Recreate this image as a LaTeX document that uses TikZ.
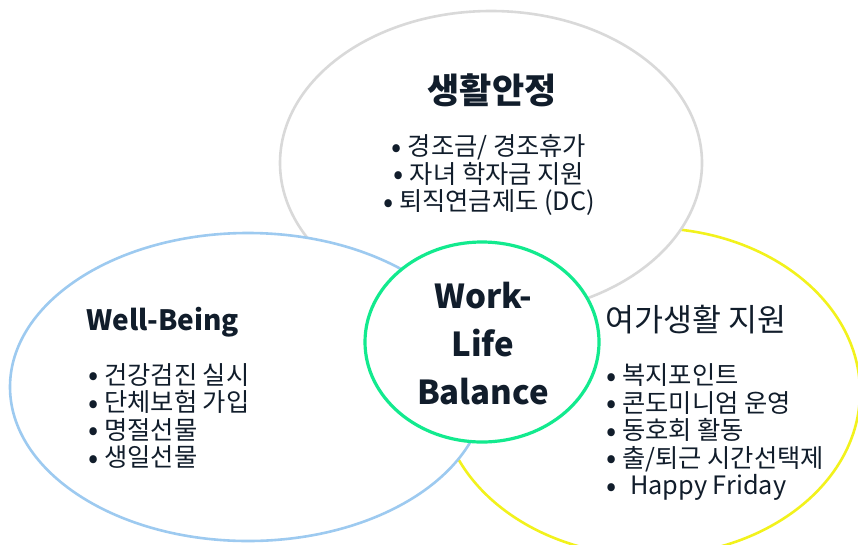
\documentclass[tikz,border=0pt]{standalone}
\usepackage{fontspec}
\setmainfont{Noto Sans CJK KR}
\usetikzlibrary{shapes.geometric}
\definecolor{txtc}{HTML}{111D2B}
\definecolor{grayline}{HTML}{D9D9D9}
\definecolor{blueline}{HTML}{9DCAF0}
\definecolor{yellowline}{HTML}{F2F21C}
\definecolor{greenline}{HTML}{12EA8E}
\newcommand{\blt}{\makebox[16pt][l]{\raisebox{-1.5pt}{\fontsize{30}{0}\selectfont •}}}
\tikzset{
  bubble/.style={
    draw, ellipse, fill=white, inner sep=0mm, line width=2.6pt
  },
  headtxt/.style={
    text=txtc, inner sep=0mm, font=\fontsize{30}{36}\selectfont
  },
  listtxt/.style={
    text=txtc, inner sep=0mm, font=\fontsize{25.3}{27.5}\selectfont
  }
}

\begin{document}
\begin{tikzpicture}[x=1pt, y=-1pt]
   \useasboundingbox (0, 0) rectangle (858, 544);

   \node[bubble, draw=yellowline, minimum width=420pt, minimum height=328pt] (leisure) at (650, 392) {};
   \node[bubble, draw=grayline, minimum width=422pt, minimum height=304pt] (stable) at (491, 163) {};
   \node[bubble, draw=blueline, minimum width=476pt, minimum height=308pt] (wellb) at (248, 387) {};
   \node[bubble, draw=greenline, line width=3.2pt, minimum width=234pt, minimum height=200pt] (wlb) at (482, 342) {};

   % titles
   \node[headtxt, font=\fontsize{35}{40}\selectfont\bfseries] (stablet) at (492, 90) {생활안정};
   \node[headtxt, font=\fontsize{28}{34}\selectfont\bfseries, anchor=west] (wellbt) at (86, 322) {Well-Being};
   \node[headtxt, font=\fontsize{31.5}{36}\selectfont, anchor=west] (leisuret) at (605, 320) {여가생활 지원};
   \node[headtxt, font=\fontsize{33}{48}\selectfont\bfseries, align=center] (wlbt) at (483, 344) {Work-\\Life\\Balance};

   % lists
   \node[listtxt, align=center] (stablel) at (489, 175) {\blt 경조금/ 경조휴가\\\blt 자녀 학자금 지원\\\blt 퇴직연금제도 (DC)};
   \node[listtxt, align=left, anchor=west] (wellbl) at (88, 416) {\blt 건강검진 실시\\\blt 단체보험 가입\\\blt 명절선물\\\blt 생일선물};
   \node[listtxt, align=left, anchor=west] (leisurel) at (606, 432) {\blt 복지포인트\\\blt 콘도미니엄 운영\\\blt 동호회 활동\\\blt 출/퇴근 시간선택제\\\blt\hspace{8pt}Happy Friday};
\end{tikzpicture}
\end{document}
